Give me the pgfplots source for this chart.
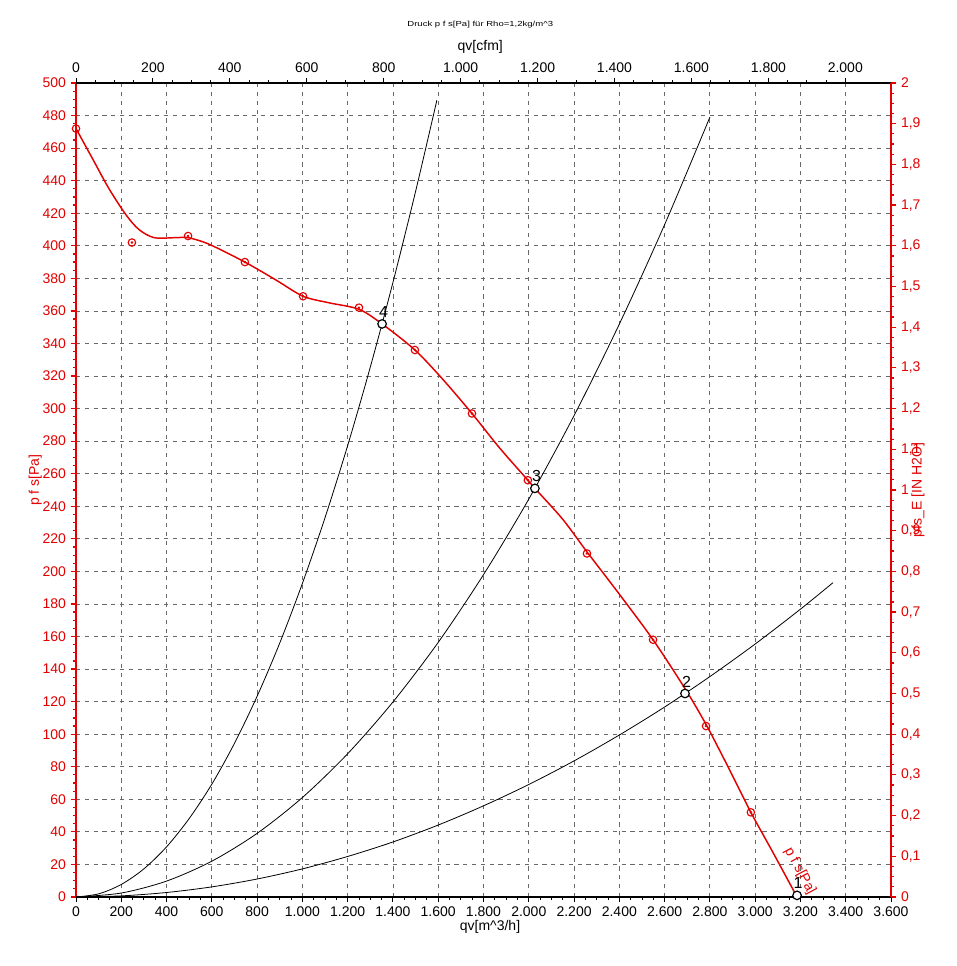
\documentclass[border=0pt]{standalone}
\usepackage{fontspec}
\setmainfont{Liberation Sans}
\usepackage{pgfplots}
\pgfplotsset{compat=1.18}
\definecolor{cred}{RGB}{226,0,0}
\definecolor{cgrid}{RGB}{105,105,105}
\begin{document}
\begin{tikzpicture}
\path[use as bounding box, fill=white] (0,0) rectangle (717pt,724.5pt);
\pgfplotsset{
  base/.style={
    at={(57pt,51.75pt)}, anchor=south west,
    width=611.25pt, height=610.5pt, scale only axis,
    /pgf/number format/assume math mode=true,
    /pgf/number format/use comma,
    tick label style={font=\fontsize{10.5}{12}\selectfont},
    label style={font=\fontsize{10.5}{12}\selectfont},
    tick align=outside,
    major tick length=4pt, minor tick length=2.2pt,
  }
}
% main axis
\begin{axis}[base,
  xmin=0,xmax=3600,ymin=0,ymax=500,
  axis x line*=bottom, axis y line*=left,
  xtick={0,200,...,3600}, ytick={0,20,...,500},
  minor x tick num=3, minor y tick num=3,
  grid=major, major grid style={cgrid, dash pattern=on 3.2pt off 3.4pt, line width=0.6pt},
  x axis line style={black, line width=2pt, -},
  y axis line style={cred, line width=2pt, -},
  y tick style={cred, line width=0.9pt}, x tick style={black, line width=0.7pt},
  yticklabel style={cred},
  xlabel={qv[m\textasciicircum3/h]}, ylabel={p f s[Pa]},
  ylabel style={cred, at={(axis description cs:-0.05,0.512)}, anchor=center},
  xlabel style={at={(axis description cs:0.508,-0.037)}, anchor=center},
  clip=false,
]
% system curves
\addplot[black, line width=0.6pt, smooth] coordinates {
(0,0) (100,1.93) (200,7.70) (300,17.3) (400,30.8) (500,48.2) (600,69.3) (700,94.4) (800,123.3) (900,156.0) (1000,192.6) (1100,233.0) (1200,277.3) (1300,325.5) (1400,377.5) (1500,433.4) (1594,489.4)};
\addplot[black, line width=0.6pt, smooth] coordinates {
(0,0) (200,2.44) (400,9.78) (600,22.0) (800,39.1) (1000,61.1) (1200,88.0) (1400,119.8) (1600,156.4) (1800,198.0) (2000,244.4) (2200,295.7) (2400,351.9) (2600,413.0) (2800,479.0)};
\addplot[black, line width=0.6pt, smooth] coordinates {
(0,0) (200,0.69) (400,2.76) (600,6.22) (800,11.05) (1000,17.27) (1200,24.9) (1400,33.8) (1600,44.2) (1800,56.0) (2000,69.1) (2200,83.6) (2400,99.5) (2600,116.7) (2800,135.4) (3000,155.4) (3200,176.8) (3344,193.1)};
% fan curve
\addplot[cred, line width=1.1pt, smooth] coordinates {
(0,472) (75,453) (146,435) (221,419) (278,410) (345,405) (442,405) (495,405) (587,401) (746,390) (883,379) (1003,369) (1117,365) (1250,361) (1352,352) (1497,336) (1620,318) (1749,297) (1870,276) (1996,256) (2027,251) (2150,232) (2257,212) (2400,186) (2549,158) (2690,128) (2783,106) (2880,80) (2981,52) (3080,27) (3185,0)};
\addplot[only marks, cred, mark=o, mark size=2.8pt, line width=0.85pt] coordinates {
(0,472) (247,402) (495,406) (746,390) (1003,369) (1250,362) (1497,336) (1749,297) (1996,256) (2257,211) (2549,158) (2783,105) (2981,52)};
\addplot[only marks, cred, mark=*, mark size=0.75pt] coordinates {
(247,402) (495,406) (746,390) (1003,369) (1250,362) (1497,336) (1749,297) (1996,256) (2257,211) (2549,158) (2783,105) (2981,52)};
% operating points
\addplot[only marks, mark=*, mark size=3.2pt, mark options={fill=white, draw=black, line width=0.9pt}] coordinates {
(3185,1) (2690,125) (2027,251) (1352,352)};
\node[anchor=south, inner sep=0pt, font=\fontsize{12}{12}\selectfont] at (axis cs:3190,1) [yshift=4.6pt] {1};
\node[anchor=south, inner sep=0pt, font=\fontsize{12}{12}\selectfont] at (axis cs:2697,125) [yshift=4.6pt] {2};
\node[anchor=south, inner sep=0pt, font=\fontsize{12}{12}\selectfont] at (axis cs:2034,251) [yshift=4.6pt] {3};
\node[anchor=south, inner sep=0pt, font=\fontsize{12}{12}\selectfont] at (axis cs:1359,352) [yshift=4.6pt] {4};
\node[cred, rotate=-62, anchor=base west, inner sep=0pt, font=\fontsize{10.5}{12}\selectfont] at (axis cs:3130,29) {p f s[Pa]};
\end{axis}
% top axis (cfm)
\begin{axis}[base,
  xmin=0, xmax=2118.9, ymin=0, ymax=1,
  axis x line*=top, axis y line=none, ytick=\empty,
  xtick={0,200,...,2000}, minor x tick num=3,
  x axis line style={black, line width=2pt, -}, x tick style={black, line width=0.7pt},
  xlabel={qv[cfm]},
  xlabel style={at={(axis description cs:0.496,1.044)}, anchor=center},
  title={\scalebox{1.3}[1]{Druck p f s[Pa] für Rho=1,2kg/m\textasciicircum3}},
  title style={at={(axis description cs:0.496,1.0615)}, anchor=center, font=\fontsize{5.5}{6}\selectfont},
]
\end{axis}
% right axis (in H2O)
\begin{axis}[base,
  xmin=0, xmax=1, ymin=0, ymax=2,
  axis y line*=right, axis x line=none, xtick=\empty,
  ytick={0,0.1,0.2,0.3,0.4,0.5,0.6,0.7,0.8,0.9,1,1.1,1.2,1.3,1.4,1.5,1.6,1.7,1.8,1.9,2},
  minor y tick num=3,
  y axis line style={cred, line width=2pt, -}, y tick style={cred, line width=0.9pt},
  yticklabel style={cred, /pgf/number format/fixed, /pgf/number format/precision=1},
  ylabel={pfs\_E [IN H2O]},
  ylabel style={cred, at={(axis description cs:1.033,0.5)}, anchor=center},
]
\end{axis}
\end{tikzpicture}
\end{document}
